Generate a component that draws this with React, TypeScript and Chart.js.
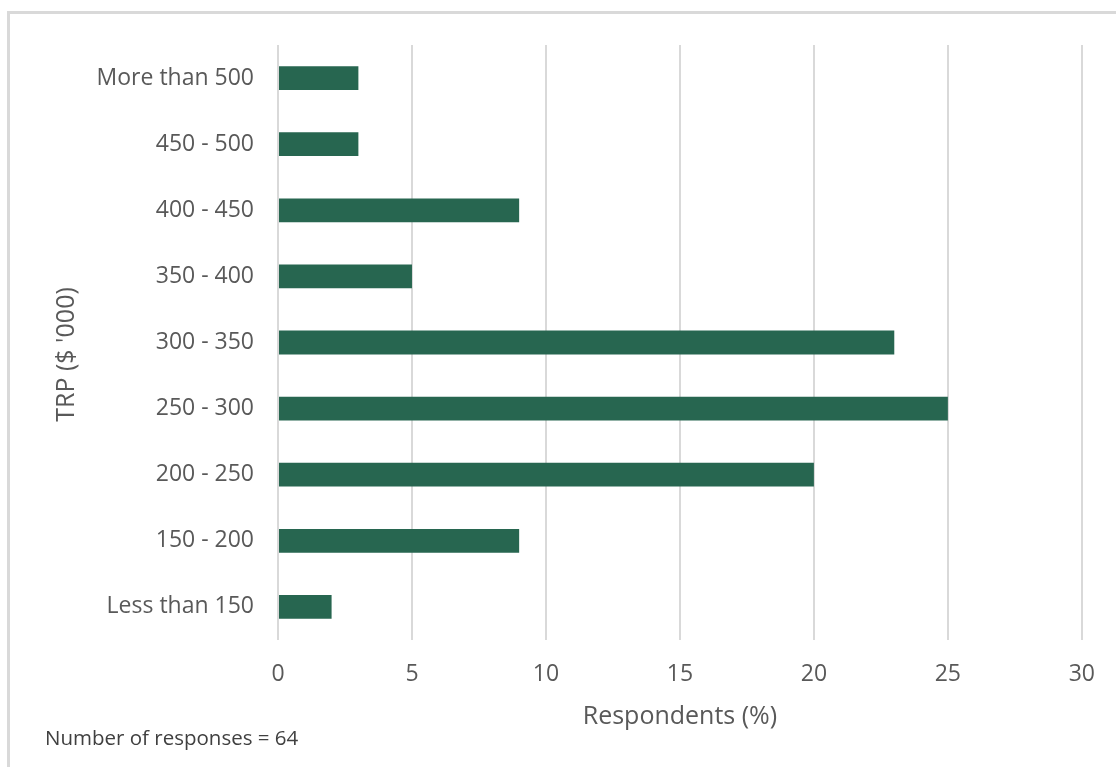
import React, { useEffect, useRef } from "react";
import { Chart, registerables } from "chart.js";

Chart.register(...registerables);

const categories = [
  "More than 500",
  "450 - 500",
  "400 - 450",
  "350 - 400",
  "300 - 350",
  "250 - 300",
  "200 - 250",
  "150 - 200",
  "Less than 150",
];
const respondents = [3, 3, 9, 5, 23, 25, 20, 9, 2];
const xTickValues = [0, 5, 10, 15, 20, 25, 30];
const xTitle = "Respondents (%)";
const yTitle = "TRP ($ '000)";
const footnote = "Number of responses = 64";

const FONT = "'Open Sans', 'Noto Sans', sans-serif";
const TEXT = "#595959";
const GRID = "#d9d9d9";
const BAR = "#276650";

const yTitlePlugin = {
  id: "yTitlePlugin",
  afterDraw(chart: any) {
    const ctx = chart.ctx;
    const area = chart.chartArea;
    ctx.save();
    ctx.translate(67, (area.top + area.bottom) / 2 + 12);
    ctx.rotate(-Math.PI / 2);
    ctx.font = `25px ${FONT}`;
    ctx.fillStyle = TEXT;
    ctx.textAlign = "center";
    ctx.textBaseline = "middle";
    ctx.fillText(yTitle, 0, 0);
    ctx.restore();
  },
};

export default function App() {
  const canvasRef = useRef<HTMLCanvasElement | null>(null);

  useEffect(() => {
    const canvas = canvasRef.current;
    if (!canvas) return;
    const chart = new Chart(canvas, {
      type: "bar",
      data: {
        labels: categories,
        datasets: [
          {
            data: respondents,
            backgroundColor: BAR,
            borderWidth: 0,
            barPercentage: 0.36,
            categoryPercentage: 1,
          },
        ],
      },
      options: {
        indexAxis: "y",
        responsive: false,
        animation: false,
        layout: { padding: { left: 0, top: 45, right: 34, bottom: 0 } },
        plugins: { legend: { display: false }, tooltip: { enabled: false } },
        scales: {
          x: {
            min: xTickValues[0],
            max: xTickValues[xTickValues.length - 1],
            afterBuildTicks: (scale: any) => {
              scale.ticks = xTickValues.map((v) => ({ value: v }));
            },
            afterFit: (scale: any) => {
              scale.height = 127;
            },
            grid: { color: GRID, lineWidth: 2, drawTicks: false },
            border: { display: false },
            ticks: {
              padding: 21,
              color: TEXT,
              font: { family: FONT, size: 23 },
            },
            title: {
              display: true,
              text: xTitle,
              color: TEXT,
              font: { family: FONT, size: 25 },
              padding: { top: 0, bottom: 35 },
            },
          },
          y: {
            afterFit: (scale: any) => {
              scale.width = 278;
            },
            grid: { display: false, drawTicks: false },
            border: { display: false },
            ticks: {
              padding: 24,
              color: TEXT,
              font: { family: FONT, size: 23 },
            },
            title: { display: false },
          },
        },
      },
      plugins: [yTitlePlugin],
    });
    return () => chart.destroy();
  }, []);

  return (
    <div style={{ position: "absolute", left: 0, top: 0, width: 1116, height: 767, overflow: "hidden", background: "#fff" }}>
      <div
        style={{
          position: "absolute",
          left: 7,
          top: 11,
          width: 1116,
          height: 800,
          borderTop: `3px solid ${GRID}`,
          borderLeft: `3px solid ${GRID}`,
        }}
      />
      <canvas ref={canvasRef} width={1116} height={767} style={{ position: "absolute", left: 0, top: 0 }} />
      <div
        style={{
          position: "absolute",
          left: 45,
          top: 722,
          fontFamily: FONT,
          fontSize: 20.5,
          color: "#404040",
          whiteSpace: "nowrap",
          lineHeight: "30px",
        }}
      >
        {footnote}
      </div>
    </div>
  );
}
